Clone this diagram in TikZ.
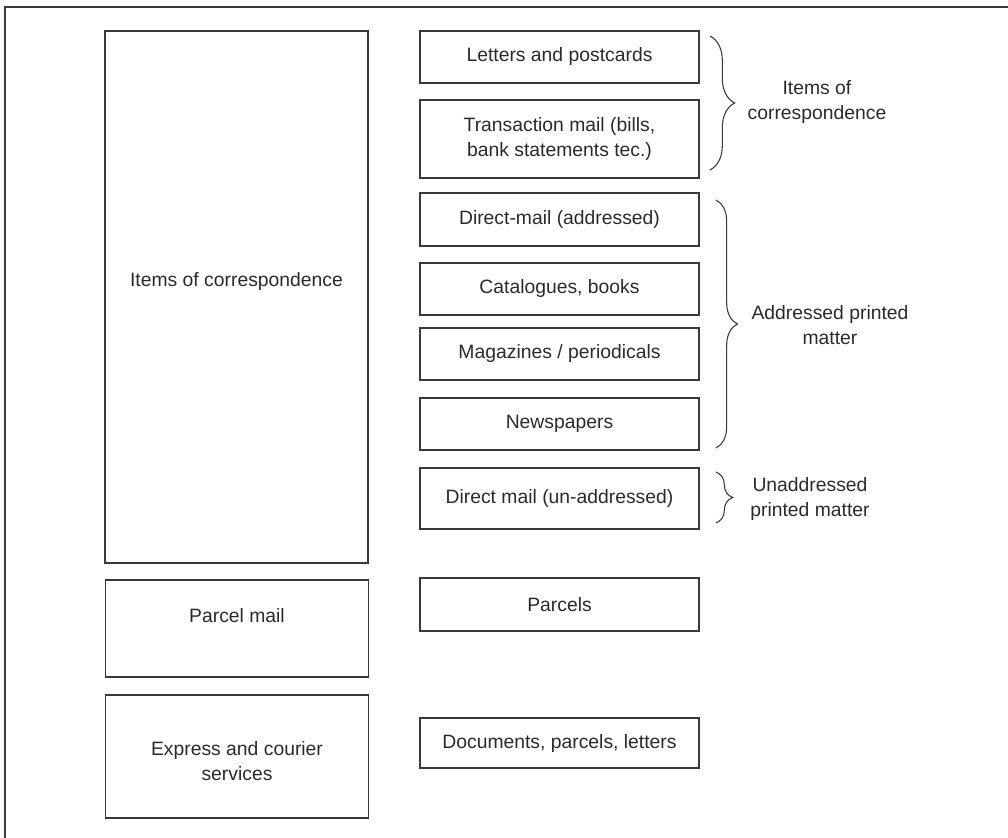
\documentclass[tikz,border=0pt]{standalone}
\usepackage{fontspec}
\setmainfont{Liberation Sans}
\usetikzlibrary{decorations.pathreplacing}
\definecolor{ink}{HTML}{2A2A2A}
\definecolor{rule}{HTML}{3A3A3A}
\begin{document}
\begin{tikzpicture}[x=0.75pt,y=-0.75pt,
  every node/.style={text=ink, font=\fontsize{14.5}{18.75}\selectfont, align=center, inner sep=0pt},
  catbox/.style={draw=rule, line width=0.9pt, minimum width=263*0.75pt},
  itembox/.style={draw=rule, line width=0.9pt, minimum width=279*0.75pt},
  groupbrace/.style={draw=rule, line width=0.8pt, decorate, decoration={brace, amplitude=#1}},
]
\useasboundingbox (0,0) rectangle (1008,838);
% outer frame
\begin{scope}
  \clip (0,0) rectangle (1008,838);
  \draw[rule, line width=0.8pt] (5,860) -- (5,7) -- (1030,7);
\end{scope}

% category boxes (left column)
\node[catbox, minimum height=532*0.75pt] (corr) at (236.5,297) {};
\node (corrtext) at (236.5,282) {Items of correspondence};
\node[catbox, minimum height=97*0.75pt] (parcel) at (237,628.5) {};
\node (parceltext) at (237,616) {Parcel mail};
\node[catbox, minimum height=123*0.75pt] (express) at (237,756.5) {};
\node (expresstext) at (237,761) {Express and courier\\services};

% item boxes (right column)
\node[itembox, minimum height=52*0.75pt] (letters) at (559.5,57) {Letters and postcards};
\node[itembox, minimum height=78*0.75pt] (trans) at (559.5,139) {Transaction mail (bills,\\bank statements tec.)};
\node[itembox, minimum height=53*0.75pt] (dmaddr) at (559.5,219.5) {Direct-mail (addressed)};
\node[itembox, minimum height=52*0.75pt] (cat) at (559.5,289) {Catalogues, books};
\node[itembox, minimum height=52*0.75pt] (mag) at (559.5,354) {Magazines / periodicals};
\node[itembox, minimum height=52*0.75pt] (news) at (559.5,424) {Newspapers};
\node[itembox, minimum height=61*0.75pt] (dmun) at (559.5,498.5) {Direct mail (un-addressed)};
\node[itembox, minimum height=53*0.75pt] (parcels) at (559.5,604.5) {Parcels};
\node[itembox, minimum height=50*0.75pt] (docs) at (559.5,743) {Documents, parcels, letters};

% group braces
\coordinate (b1t) at (710,36);
\coordinate (b1b) at (710,170);
\coordinate (b2t) at (716,200);
\coordinate (b2b) at (716,448);
\coordinate (b3t) at (716,472);
\coordinate (b3b) at (716,523);
\draw[groupbrace=18.5pt] (b1t) -- (b1b);
\draw[groupbrace=16pt] (b2t) -- (b2b);
\draw[groupbrace=12.5pt] (b3t) -- (b3b);

\node (g1) at (817,102) {Items of\\correspondence};
\node (g2) at (830,325) {Addressed printed\\matter};
\node (g3) at (810,499) {Unaddressed\\printed matter};
\end{tikzpicture}
\end{document}
